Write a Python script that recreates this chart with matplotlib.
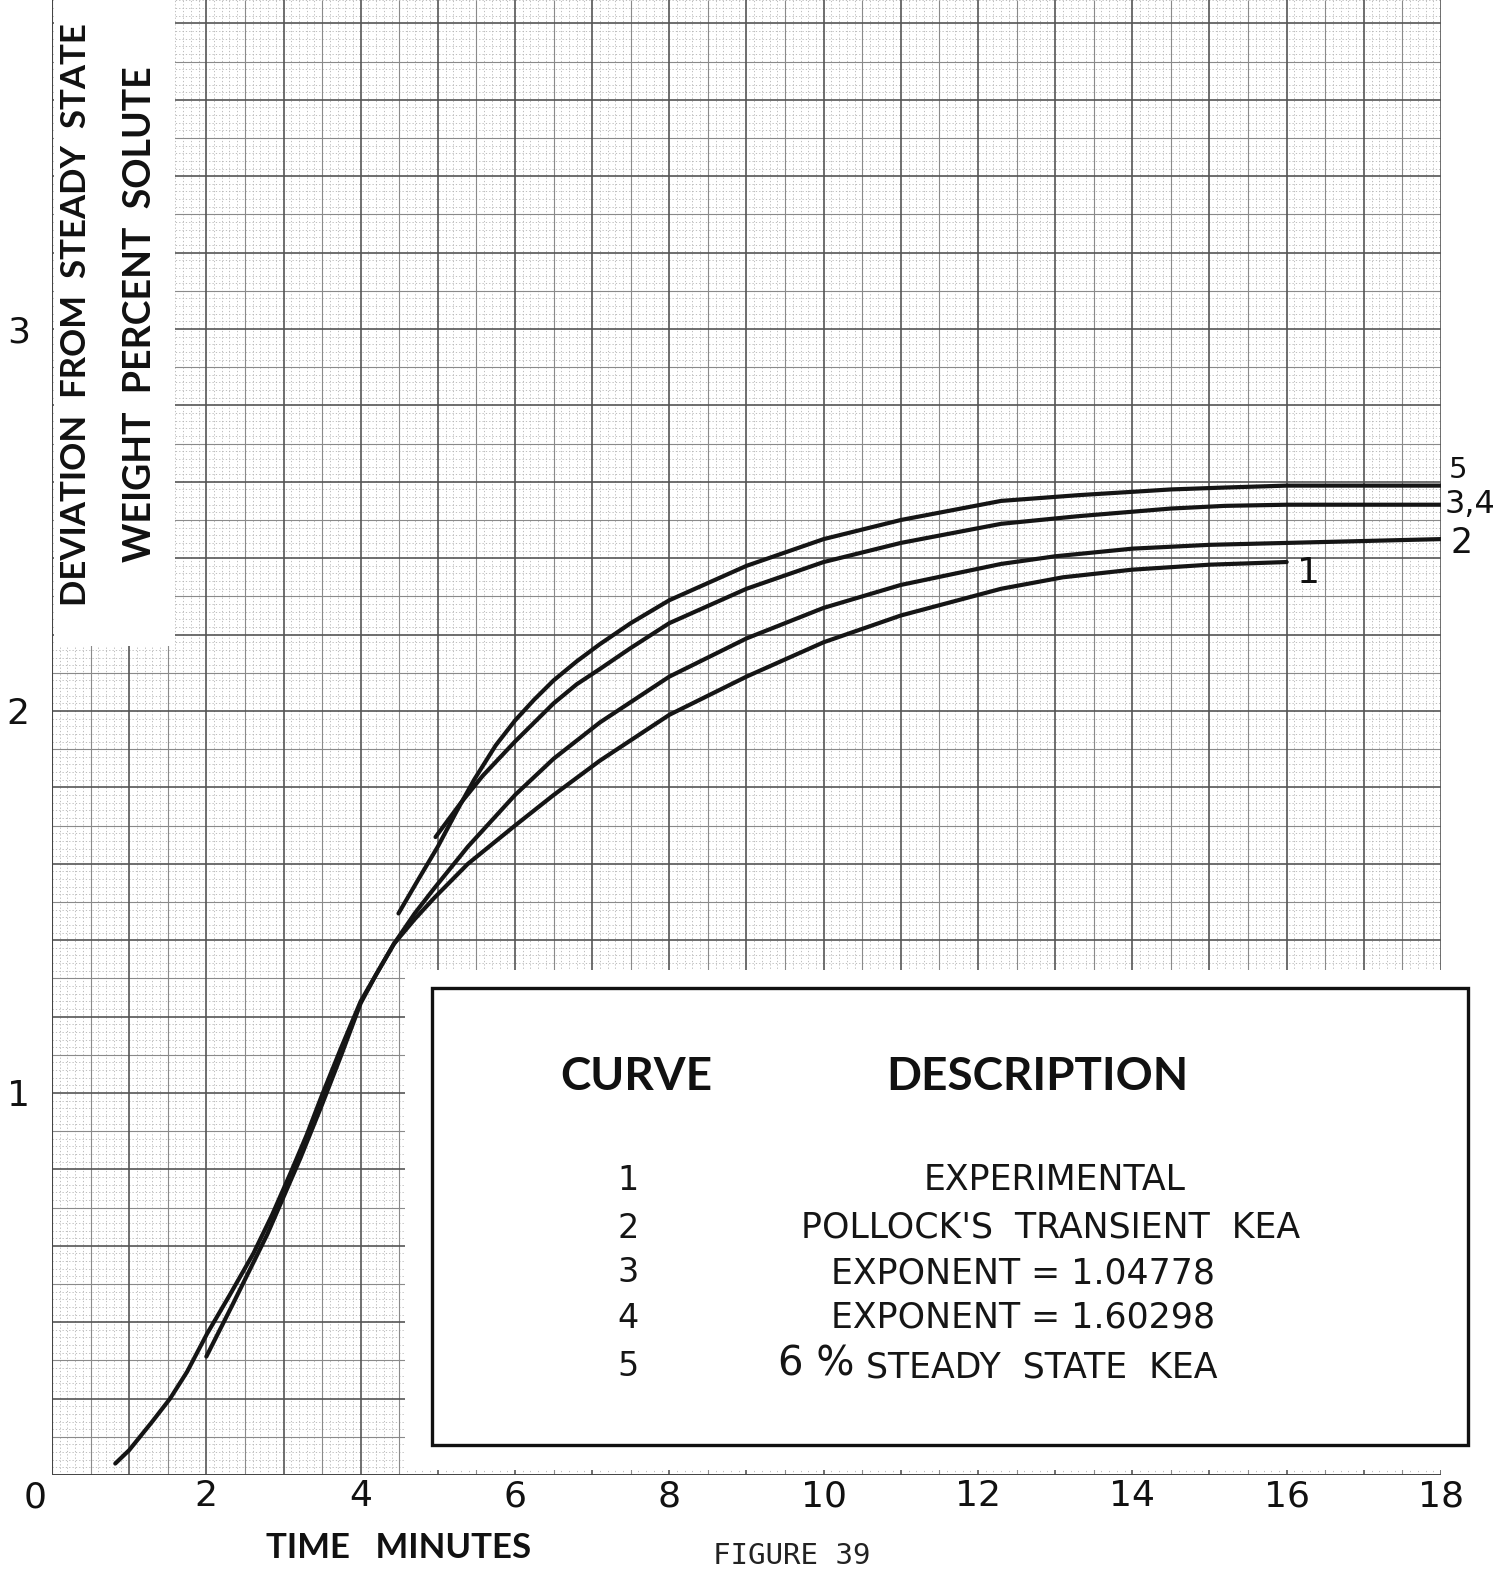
import numpy as np
import matplotlib.pyplot as plt
from matplotlib.patches import Rectangle

W, H = 1494, 1575

# curve 1 - experimental
c1_t = [0.82, 1.0, 1.14, 1.3, 1.53, 1.75, 2.01, 2.3, 2.61, 2.85, 3.09, 3.3, 3.5, 3.75, 4.0, 4.2, 4.43,
        4.7, 4.95, 5.39, 6.0, 6.5, 7.1, 8.0, 9.0, 10.0, 11.0, 12.3, 13.1, 14.0, 15.0, 16.0]
c1_y = [0.03, 0.065, 0.10, 0.14, 0.20, 0.27, 0.37, 0.47, 0.58, 0.68, 0.79, 0.89, 0.995, 1.12, 1.24, 1.31, 1.39,
        1.455, 1.51, 1.60, 1.70, 1.78, 1.87, 1.99, 2.09, 2.18, 2.25, 2.32, 2.35, 2.37, 2.383, 2.39]

# curve 2 - pollock's transient kea
c2_t = [2.0, 2.35, 2.79, 3.22, 3.5, 3.75, 4.0, 4.2, 4.43, 4.7, 4.95, 5.39, 6.0, 6.5, 7.1, 8.0, 9.0, 10.0,
        11.0, 12.3, 13.0, 14.0, 15.0, 16.0, 18.0]
c2_y = [0.31, 0.45, 0.63, 0.83, 0.97, 1.10, 1.235, 1.31, 1.39, 1.47, 1.535, 1.645, 1.78, 1.875, 1.97, 2.09, 2.19, 2.27,
        2.33, 2.385, 2.405, 2.425, 2.435, 2.44, 2.45]

# curves 3,4 - exponent runs (drawn as one line)
c34_t = [4.97, 5.3, 5.58, 6.0, 6.5, 6.8, 7.1, 7.5, 8.0, 9.0, 10.0, 11.0, 12.3, 13.3, 14.5, 15.2, 16.0, 18.0]
c34_y = [1.67, 1.76, 1.83, 1.92, 2.02, 2.07, 2.11, 2.165, 2.23, 2.32, 2.39, 2.44, 2.49, 2.51, 2.53, 2.537, 2.54, 2.54]

# curve 5 - 6% steady state kea
c5_t = [4.49, 4.75, 5.0, 5.25, 5.47, 5.75, 6.0, 6.25, 6.5, 6.8, 7.1, 7.5, 8.0, 9.0, 10.0, 11.0, 12.3, 13.3,
        14.5, 15.2, 16.0, 18.0]
c5_y = [1.47, 1.56, 1.645, 1.74, 1.82, 1.91, 1.975, 2.03, 2.08, 2.13, 2.175, 2.23, 2.29, 2.38, 2.45, 2.50, 2.55, 2.565,
        2.58, 2.585, 2.59, 2.59]

x_ticks = [2, 4, 6, 8, 10, 12, 14, 16, 18]
y_ticks = [1, 2, 3]

rows = ['1', '2', '3', '4', '5']
descs = ['EXPERIMENTAL', "POLLOCK'S  TRANSIENT  KEA", 'EXPONENT = 1.04778', 'EXPONENT = 1.60298']

fig = plt.figure(figsize=(W / 100, H / 100), dpi=100)
ax = fig.add_axes([52 / W, 100 / H, 1389 / W, 1475 / H])
ytop = 1475 / 382
ax.set_xlim(0, 18)
ax.set_ylim(0, ytop)
for s in ax.spines.values():
    s.set_visible(False)

# graph paper: 1 min x 0.2 squares, halves, and tenths
gx = np.round(np.arange(0, 18.001, 0.1), 2)
gy = np.round(np.arange(0, ytop, 0.02), 2)
xmaj = [v for v in gx if abs(v - round(v)) < 1e-6]
xmed = [v for v in gx if abs(abs(v - np.floor(v)) - 0.5) < 1e-6]
xmin = [v for v in gx if v not in xmaj and v not in xmed]
ymaj = [v for v in gy if abs(v * 5 - round(v * 5)) < 1e-6]
ymed = [v for v in gy if v not in ymaj and abs(v * 10 - round(v * 10)) < 1e-6]
ymin = [v for v in gy if v not in ymaj and v not in ymed]

ax.vlines(xmin, 0, ytop, color='#b4b4b4', lw=0.6, linestyles=(0, (1.5, 2.5)), zorder=1)
ax.hlines(ymin, 0, 18, color='#b4b4b4', lw=0.6, linestyles=(0, (1.5, 2.5)), zorder=1)
ax.vlines(xmed, 0, ytop, color='#8a8a8a', lw=0.8, zorder=1)
ax.hlines(ymed, 0, 18, color='#8a8a8a', lw=0.8, zorder=1)
ax.vlines(xmaj, 0, ytop, color='#555555', lw=1.2, zorder=1)
ax.hlines(ymaj, 0, 18, color='#555555', lw=1.2, zorder=1)

# white paste-ups for the axis title and the key
ax.add_patch(Rectangle((0.03, 2.17), 1.57, 2.0, fc='white', ec='none', zorder=2, clip_on=False))
ax.add_patch(Rectangle((4.58, 0.012), 14.0, 1.31, fc='white', ec='none', zorder=2, clip_on=False))
ax.hlines(0, 0, 18, color='#444444', lw=1.3, zorder=2)
ax.vlines(0, 0, ytop, color='#444444', lw=1.5, zorder=2)

lk = dict(color='#151515', lw=3.0, solid_capstyle='round', solid_joinstyle='round', zorder=3)
ax.plot(c1_t, c1_y, **lk)
ax.plot(c2_t, c2_y, **lk)
ax.plot(c34_t, c34_y, **lk)
ax.plot(c5_t, c5_y, **lk)

tf = dict(family='DejaVu Sans', color='#111111', clip_on=False)
ax.text(c5_t[-1] + 0.22, c5_y[-1] + 0.04, '5', fontsize=21, ha='center', va='center', **tf)
ax.text(c34_t[-1] + 0.38, c34_y[-1], '3,4', fontsize=23, ha='center', va='center', **tf)
ax.text(c2_t[-1] + 0.26, c2_y[-1] - 0.01, '2', fontsize=25, ha='center', va='center', **tf)
ax.text(c1_t[-1] + 0.28, c1_y[-1] - 0.03, '1', fontsize=26, ha='center', va='center', **tf)

ax.set_xticks(x_ticks)
ax.set_yticks(y_ticks)
ax.set_xticklabels([str(v) for v in x_ticks], fontsize=26, color='#111111')
ax.set_yticklabels([str(v) for v in y_ticks], fontsize=26, color='#111111')
ax.tick_params(axis='x', length=0, pad=3)
ax.tick_params(axis='y', length=0, pad=16)
ax.text(-0.22, -0.058, '0', fontsize=26, ha='center', va='center', **tf)

# axis titles
hf = dict(family='Lato', weight='bold', color='#111111')
fig.text(76 / W, 1 - 315 / H, 'DEVIATION  FROM  STEADY  STATE', rotation=90, fontsize=25,
         ha='center', va='center', **hf)
fig.text(140 / W, 1 - 314 / H, 'WEIGHT  PERCENT  SOLUTE', rotation=90, fontsize=27,
         ha='center', va='center', **hf)
fig.text(399 / W, 1 - 1548 / H, 'TIME   MINUTES', fontsize=25, ha='center', va='center', **hf)
fig.text(792 / W, 1 - 1556 / H, 'FIGURE 39', fontsize=21, family='DejaVu Sans Mono',
         ha='center', va='center', color='#222222')

# key
fig.add_artist(Rectangle((432 / W, 1 - 1445 / H), (1468 - 432) / W, (1445 - 988) / H,
                         transform=fig.transFigure, fill=False, lw=2.4, ec='#111111'))
fig.text(636 / W, 1 - 1077 / H, 'CURVE', fontsize=33, ha='center', va='center', **hf)
fig.text(1037 / W, 1 - 1077 / H, 'DESCRIPTION', fontsize=33, ha='center', va='center', **hf)

row_y = [1180, 1228, 1273, 1318, 1367]
desc_x = [1055, 1051, 1023, 1023]
rf = dict(family='DejaVu Sans', color='#151515', va='center')
for i, r in enumerate(rows):
    fig.text(628 / W, 1 - row_y[i] / H, r, fontsize=24, ha='center', **rf)
for i, d in enumerate(descs):
    fig.text(desc_x[i] / W, 1 - row_y[i] / H, d, fontsize=25, ha='center', **rf)
fig.text(778 / W, 1 - 1365 / H, '6 %', fontsize=29, ha='left', **rf)
fig.text(866 / W, 1 - 1367 / H, 'STEADY  STATE  KEA', fontsize=25, ha='left', **rf)

fig.savefig('out.png', dpi=100)
